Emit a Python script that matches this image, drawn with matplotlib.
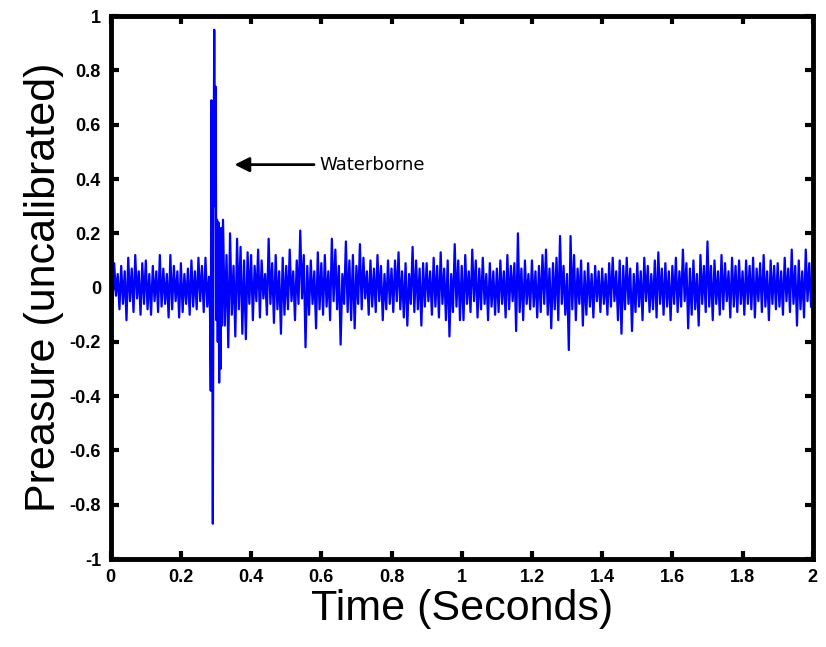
import matplotlib
matplotlib.use("Agg")
import matplotlib.pyplot as plt
from matplotlib.ticker import FormatStrFormatter
import numpy as np

# Hydrophone record: local maxima / minima per 10 ms bin
BIN = 0.01

# 0.00 - 0.27 s, before the arrival
quiet_hi = [0.07, 0.09, 0.05, 0.08, 0.06, 0.11, 0.07, 0.12, 0.06, 0.09,
            0.10, 0.05, 0.08, 0.06, 0.12, 0.07, 0.05, 0.12, 0.08, 0.06,
            0.09, 0.05, 0.07, 0.10, 0.06, 0.11, 0.08, 0.11]
quiet_lo = [-0.06, -0.03, -0.08, -0.06, -0.12, -0.05, -0.09, -0.04, -0.10, -0.06,
            -0.08, -0.10, -0.05, -0.09, -0.07, -0.06, -0.11, -0.08, -0.05, -0.11,
            -0.09, -0.06, -0.10, -0.07, -0.08, -0.05, -0.09, -0.07]

# waterborne arrival, 0.28 - 0.32 s
spike_t = [0.280, 0.283, 0.285, 0.287, 0.289, 0.291, 0.293, 0.295, 0.297, 0.299,
           0.301, 0.303, 0.305, 0.307, 0.309, 0.311, 0.313, 0.315, 0.317, 0.319]
spike_p = [0.04, -0.10, -0.38, 0.69, 0.10, -0.87, 0.35, 0.95, 0.30, 0.74,
           -0.12, 0.25, -0.20, 0.24, -0.35, 0.15, -0.30, 0.22, -0.14, 0.10]

# 0.32 - 1.99 s, after the arrival
after_hi = [0.25, 0.12, 0.20, 0.08, 0.18, 0.15, 0.10, 0.13,
            0.12, 0.08, 0.14, 0.10, 0.05, 0.18, 0.09, 0.12, 0.06, 0.11,
            0.08, 0.14, 0.06, 0.10, 0.21, 0.12, 0.08, 0.10, 0.06, 0.13,
            0.09, 0.12, 0.06, 0.18, 0.14, 0.08, 0.05, 0.17, 0.10, 0.12,
            0.08, 0.16, 0.11, 0.06, 0.10, 0.07, 0.12, 0.08, 0.05, 0.10,
            0.07, 0.10, 0.13, 0.06, 0.09, 0.05, 0.15, 0.10, 0.07, 0.09,
            0.09, 0.06, 0.11, 0.08, 0.13, 0.07, 0.10, 0.05, 0.16, 0.10,
            0.08, 0.12, 0.06, 0.14, 0.10, 0.07, 0.11, 0.05, 0.09, 0.06,
            0.07, 0.10, 0.06, 0.12, 0.08, 0.09, 0.20, 0.07, 0.10, 0.05,
            0.10, 0.06, 0.08, 0.12, 0.14, 0.07, 0.09, 0.11, 0.19, 0.08,
            0.05, 0.19, 0.12, 0.07, 0.10, 0.06, 0.09, 0.05, 0.08, 0.06,
            0.07, 0.05, 0.09, 0.11, 0.06, 0.10, 0.08, 0.11, 0.07, 0.05,
            0.09, 0.06, 0.11, 0.08, 0.05, 0.10, 0.13, 0.07, 0.09, 0.06,
            0.08, 0.11, 0.06, 0.14, 0.09, 0.07, 0.10, 0.05, 0.12, 0.08,
            0.17, 0.08, 0.10, 0.06, 0.12, 0.09, 0.06, 0.11, 0.08, 0.10,
            0.06, 0.10, 0.08, 0.11, 0.07, 0.09, 0.12, 0.06, 0.10, 0.08,
            0.09, 0.06, 0.11, 0.07, 0.14, 0.08, 0.10, 0.06, 0.14, 0.09]
after_lo = [-0.14, -0.22, -0.10, -0.18, -0.08, -0.17, -0.19, -0.06,
            -0.12, -0.05, -0.11, -0.04, -0.10, -0.06, -0.13, -0.08, -0.17, -0.10,
            -0.08, -0.05, -0.12, -0.06, -0.04, -0.22, -0.10, -0.06, -0.15, -0.08,
            -0.10, -0.07, -0.12, -0.05, -0.08, -0.21, -0.06, -0.09, -0.12, -0.15,
            -0.06, -0.08, -0.04, -0.10, -0.07, -0.09, -0.05, -0.12, -0.08, -0.06,
            -0.09, -0.05, -0.08, -0.11, -0.14, -0.06, -0.09, -0.08, -0.14, -0.07,
            -0.05, -0.10, -0.07, -0.11, -0.06, -0.12, -0.18, -0.09, -0.07, -0.12,
            -0.12, -0.06, -0.09, -0.05, -0.11, -0.08, -0.06, -0.12, -0.07, -0.10,
            -0.09, -0.06, -0.11, -0.08, -0.05, -0.16, -0.09, -0.12, -0.06, -0.08,
            -0.07, -0.11, -0.09, -0.06, -0.10, -0.15, -0.08, -0.12, -0.06, -0.10,
            -0.23, -0.08, -0.12, -0.06, -0.14, -0.10, -0.07, -0.11, -0.05, -0.09,
            -0.06, -0.10, -0.07, -0.05, -0.12, -0.17, -0.08, -0.06, -0.16, -0.09,
            -0.07, -0.12, -0.05, -0.09, -0.08, -0.11, -0.06, -0.10, -0.07, -0.12,
            -0.06, -0.09, -0.07, -0.05, -0.15, -0.10, -0.08, -0.14, -0.06, -0.09,
            -0.07, -0.12, -0.06, -0.10, -0.08, -0.05, -0.11, -0.07, -0.09, -0.06,
            -0.10, -0.06, -0.08, -0.11, -0.05, -0.09, -0.07, -0.12, -0.06, -0.08,
            -0.07, -0.10, -0.05, -0.09, -0.06, -0.14, -0.08, -0.11, -0.05, -0.07]

x_ticks = [0, 0.2, 0.4, 0.6, 0.8, 1, 1.2, 1.4, 1.6, 1.8, 2]
y_ticks = [-1, -0.8, -0.6, -0.4, -0.2, 0, 0.2, 0.4, 0.6, 0.8, 1]


def zigzag(start, hi, lo):
    t, p = [], []
    for i, (h, l) in enumerate(zip(hi, lo)):
        t0 = start + i * BIN
        t += [t0, t0 + BIN / 2]
        p += [h, l]
    return t, p


t1, p1 = zigzag(0.0, quiet_hi, quiet_lo)
t2, p2 = zigzag(0.32, after_hi, after_lo)
time = np.array(t1 + spike_t + t2)
pres = np.array(p1 + spike_p + p2)

narrow = ["Liberation Sans Narrow", "Liberation Sans", "DejaVu Sans"]

fig = plt.figure(figsize=(8.26, 6.47), dpi=100)
ax = fig.add_axes([0.134, 0.136, 0.850, 0.839])
ax.plot(time, pres, color="#0000ff", linewidth=1.6)

ax.set_xlim(0, 2)
ax.set_ylim(-1, 1)
ax.set_xticks(x_ticks)
ax.set_yticks(y_ticks)
ax.xaxis.set_major_formatter(FormatStrFormatter("%g"))
ax.yaxis.set_major_formatter(FormatStrFormatter("%g"))
ax.tick_params(direction="in", length=6, width=3, top=True, right=True,
               labelsize=13, pad=7)
for lab in ax.get_xticklabels() + ax.get_yticklabels():
    lab.set_family(narrow)
    lab.set_fontweight("bold")
for s in ax.spines.values():
    s.set_linewidth(3.5)

ax.set_xlabel("Time (Seconds)", fontsize=31, family=narrow, labelpad=2)
ax.set_ylabel("Preasure (uncalibrated)", fontsize=31, family=narrow, labelpad=4)

ax.annotate("Waterborne", xy=(0.345, 0.453), xytext=(0.595, 0.453),
            fontsize=13, va="center", ha="left", family="DejaVu Sans",
            arrowprops=dict(arrowstyle="-|>", color="black", lw=2,
                            mutation_scale=22))

fig.savefig("out.png", dpi=100)
